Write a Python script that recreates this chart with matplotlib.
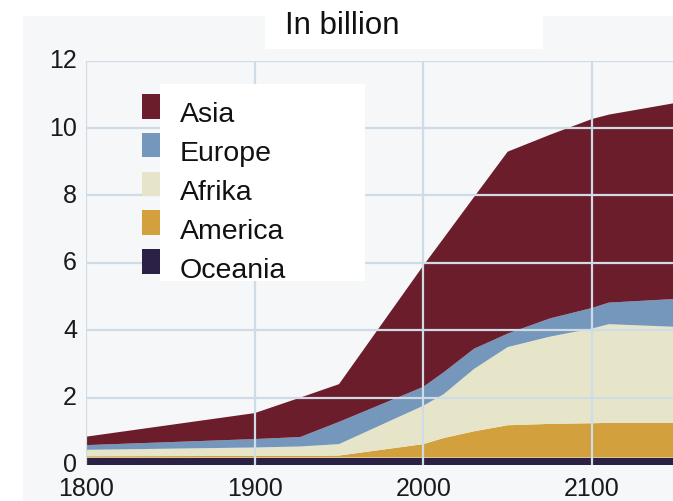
import matplotlib
matplotlib.use("Agg")
import matplotlib.pyplot as plt
import matplotlib.transforms as mtransforms
from matplotlib.patches import Rectangle
import numpy as np

plt.rcParams['font.family'] = ['Liberation Sans', 'DejaVu Sans']

# ---- data (billions) ----
years = [1800, 1900, 1927, 1950, 2000, 2012, 2030, 2050, 2075, 2100, 2110, 2150]
oceania = [0.22, 0.22, 0.22, 0.22, 0.22, 0.22, 0.22, 0.22, 0.22, 0.22, 0.22, 0.22]
america = [0.04, 0.05, 0.05, 0.06, 0.40, 0.58, 0.78, 0.96, 1.00, 1.02, 1.03, 1.03]
afrika  = [0.19, 0.25, 0.28, 0.34, 1.14, 1.30, 1.85, 2.32, 2.59, 2.81, 2.93, 2.85]
europe  = [0.14, 0.25, 0.28, 0.66, 0.56, 0.65, 0.60, 0.40, 0.54, 0.61, 0.64, 0.83]
asia    = [0.25, 0.77, 1.17, 1.12, 3.60, 3.98, 4.50, 5.40, 5.45, 5.61, 5.58, 5.82]

labels_bottom_up = ['Oceania', 'America', 'Afrika', 'Europe', 'Asia']
colors_bottom_up = ['#2b2146', '#d2a13e', '#e6e5c9', '#7597bb', '#6c1d2b']
x_ticks = [1800, 1900, 2000, 2100]
y_ticks = [0, 2, 4, 6, 8, 10, 12]
title = 'In billion'

W, H = 673, 502
fig = plt.figure(figsize=(W / 100, H / 100), dpi=100, facecolor='white')

def fx(px):
    return px / W

def fy(py):
    return 1 - py / H

# grey panel background
fig.patches.append(Rectangle((fx(23), 0), 1 - fx(23), fy(17), transform=fig.transFigure,
                             facecolor='#f6f7f9', edgecolor='none', zorder=-5))

ax = fig.add_axes([fx(86), fy(466), 1 - fx(86), fy(61.7) - fy(466)])
ax.set_zorder(2)
ax.patch.set_visible(False)

ax.stackplot(years, oceania, america, afrika, europe, asia,
             colors=colors_bottom_up, labels=labels_bottom_up, linewidth=0)

ax.set_xlim(1800, 2148)
ax.set_ylim(0, 12)
ax.set_xticks(x_ticks)
ax.set_yticks(y_ticks)
ax.set_axisbelow(False)
ax.grid(True, color='#cfdce7', linewidth=1.6)
for s in ax.spines.values():
    s.set_visible(False)
ax.tick_params(axis='both', length=0, labelsize=18, labelcolor='#1a1a1a')
ax.tick_params(axis='y', pad=6.5)
ax.tick_params(axis='x', pad=8)
ygl = ax.yaxis.get_gridlines()
ygl[0].set_visible(False)

# nudge y tick labels up slightly
up = mtransforms.ScaledTranslation(0, 3 / 100, fig.dpi_scale_trans)
for lbl in ax.get_yticklabels():
    lbl.set_transform(lbl.get_transform() + up)

# title box
fig.patches.append(Rectangle((fx(265), fy(50)), fx(543) - fx(265), fy(17) - fy(50),
                             transform=fig.transFigure, facecolor='white',
                             edgecolor='none', zorder=3))
fig.text(fx(342.5), fy(34), title, ha='center', va='baseline', fontsize=22.5,
         color='#111111', zorder=4)

# legend box
fig.patches.append(Rectangle((fx(160), fy(282)), fx(365) - fx(160), fy(85) - fy(282),
                             transform=fig.transFigure, facecolor='white',
                             edgecolor='none', zorder=5))
leg_labels = labels_bottom_up[::-1]
leg_colors = colors_bottom_up[::-1]
for i, (lab, col) in enumerate(zip(leg_labels, leg_colors)):
    top = 95 + i * 38.8
    bottom = top + 24.5
    fig.patches.append(Rectangle((fx(142), fy(bottom)), fx(160) - fx(142), fy(top) - fy(bottom),
                                 transform=fig.transFigure, facecolor=col,
                                 edgecolor='none', zorder=6))
    fig.text(fx(180), fy(bottom + 3), lab, ha='left', va='baseline', fontsize=20.5,
             color='#111111', zorder=7)

fig.savefig('out.png', dpi=100, facecolor='white')
